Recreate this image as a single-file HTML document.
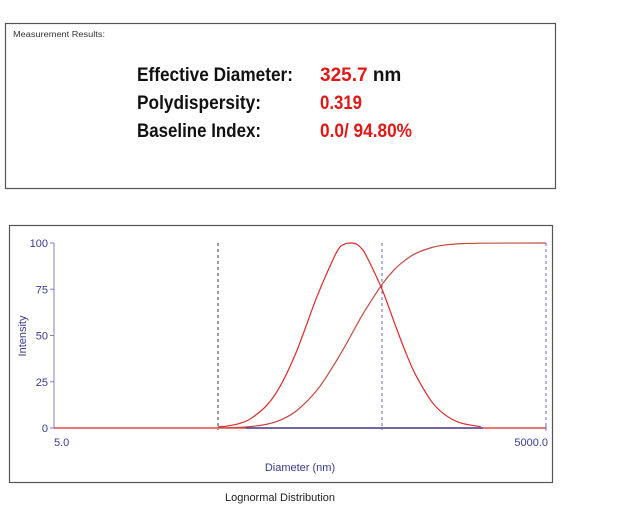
<!DOCTYPE html>
<html><head><meta charset="utf-8"><style>
html,body{margin:0;padding:0;background:#fff;}
svg{display:block;font-family:"Liberation Sans",sans-serif;}
</style></head><body>
<svg id="s" width="632" height="513" viewBox="0 0 632 513">
<g>
<rect x="5.5" y="23.5" width="550" height="165" fill="#fff" stroke="#555" stroke-width="1.2"/>
<text x="13" y="37" font-size="8" fill="#333" textLength="92" lengthAdjust="spacingAndGlyphs">Measurement Results:</text>
<g font-size="19" font-weight="bold">
<text x="137" y="81" fill="#111" textLength="156" lengthAdjust="spacingAndGlyphs">Effective Diameter:</text>
<text x="137" y="109" fill="#111" textLength="124" lengthAdjust="spacingAndGlyphs">Polydispersity:</text>
<text x="137" y="137" fill="#111" textLength="124" lengthAdjust="spacingAndGlyphs">Baseline Index:</text>
<text x="320" y="81"><tspan fill="#e01818">325.7</tspan><tspan fill="#111"> nm</tspan></text>
<text x="320" y="109" fill="#e01818" textLength="42" lengthAdjust="spacingAndGlyphs">0.319</text>
<text x="320" y="137" fill="#e01818" textLength="92" lengthAdjust="spacingAndGlyphs">0.0/ 94.80%</text>
</g>
</g>
<g>
<rect x="9.5" y="225.5" width="543" height="257" fill="#fff" stroke="#555" stroke-width="1.2"/>
<g id="plot"></g>
<text x="300" y="471" font-size="11" fill="#3a3a8c" text-anchor="middle">Diameter (nm)</text>
<text transform="translate(26,336) rotate(-90)" font-size="11" fill="#3a3a8c" text-anchor="middle">Intensity</text>
</g>
<text x="280" y="501" font-size="11" fill="#222" text-anchor="middle">Lognormal Distribution</text>
</svg>
<script>
const diameters=[50,60,70,80,100,120,150,200,250,275,300,323,350,375,400,500,600,700,800,1000,1200,1500,2000];
const intensity=[0.5,1.4,2.9,5.3,12.6,22.8,41,70.7,90.6,97.5,99.6,100,99.4,97,93.3,75,56,40.5,28.9,14.5,7.4,2.8,0.7];
const cumDiameters=[50,60,70,80,100,120,150,200,250,300,350,400,500,600,700,800,1000,1200,1500,2000,5000];
const cumulative=[0.06,0.2,0.4,0.8,2.1,4.3,9.2,20.3,33,44.8,55.6,64.4,77.6,86,91,94.3,97.5,98.9,99.6,99.9,100];
const yTicks=[0,25,50,75,100];
const xLabels=["5.0","5000.0"];
const xMin=5,xMax=5000,X0=54,X1=546,Y0=428,Y1=243;
const NS="http://www.w3.org/2000/svg";
const g=document.getElementById('plot');
function xs(d){return X0+(Math.log10(d)-Math.log10(xMin))/(Math.log10(xMax)-Math.log10(xMin))*(X1-X0);}
function ys(v){return Y0-(v/100)*(Y0-Y1);}
function mk(t,a){const e=document.createElementNS(NS,t);for(const k in a)e.setAttribute(k,a[k]);g.appendChild(e);return e;}
function smooth(xsArr,ysArr){let p="M"+xsArr[0]+","+ysArr[0];for(let i=0;i<xsArr.length-1;i++){const x0=xsArr[Math.max(i-1,0)],y0=ysArr[Math.max(i-1,0)],x1=xsArr[i],y1=ysArr[i],x2=xsArr[i+1],y2=ysArr[i+1],x3=xsArr[Math.min(i+2,xsArr.length-1)],y3=ysArr[Math.min(i+2,ysArr.length-1)];p+=" C"+(x1+(x2-x0)/6)+","+(y1+(y2-y0)/6)+" "+(x2-(x3-x1)/6)+","+(y2-(y3-y1)/6)+" "+x2+","+y2;}return p;}
[50,500,5000].forEach((d,i)=>{const e=mk('line',{x1:xs(d),x2:xs(d),y1:Y1,y2:Y0+2,stroke:i==0?'#333366':'#6a6ac0','stroke-width':1,'stroke-dasharray':'3,3'});

});
let ax=mk('line',{x1:X0,x2:X0,y1:Y1,y2:Y0,stroke:'#8080c0','stroke-width':1});


yTicks.forEach(v=>{const t=mk('line',{x1:X0-4,x2:X0,y1:ys(v),y2:ys(v),stroke:'#8080c0'});


const l=mk('text',{x:X0-6,y:ys(v)+4,'font-size':11,fill:'#3a3a8c','text-anchor':'end'});l.textContent=v;

});
let b1=mk('line',{x1:X0,x2:X1,y1:Y0,y2:Y0,stroke:'#e02020','stroke-width':1.3});


let b2=mk('line',{x1:xs(diameters[0])+28,x2:xs(2000)+2,y1:Y0,y2:Y0,stroke:'#2a2a90','stroke-width':1.3});


let tk=mk('line',{x1:X1,x2:X1,y1:Y0-3,y2:Y0+3,stroke:'#6a6ac0'});


let l1=mk('text',{x:X0,y:446,'font-size':11,fill:'#3a3a8c'});l1.textContent=xLabels[0];


let l2=mk('text',{x:X1+2,y:446,'font-size':11,fill:'#3a3a8c','text-anchor':'end'});l2.textContent=xLabels[1];


let c=mk('path',{d:smooth(cumDiameters.map(xs),cumulative.map(ys)),fill:'none',stroke:'#c04a40','stroke-width':1.2});


let p=mk('path',{d:smooth(diameters.map(xs),intensity.map(ys)),fill:'none',stroke:'#e02828','stroke-width':1.2});


</script>
</body></html>
